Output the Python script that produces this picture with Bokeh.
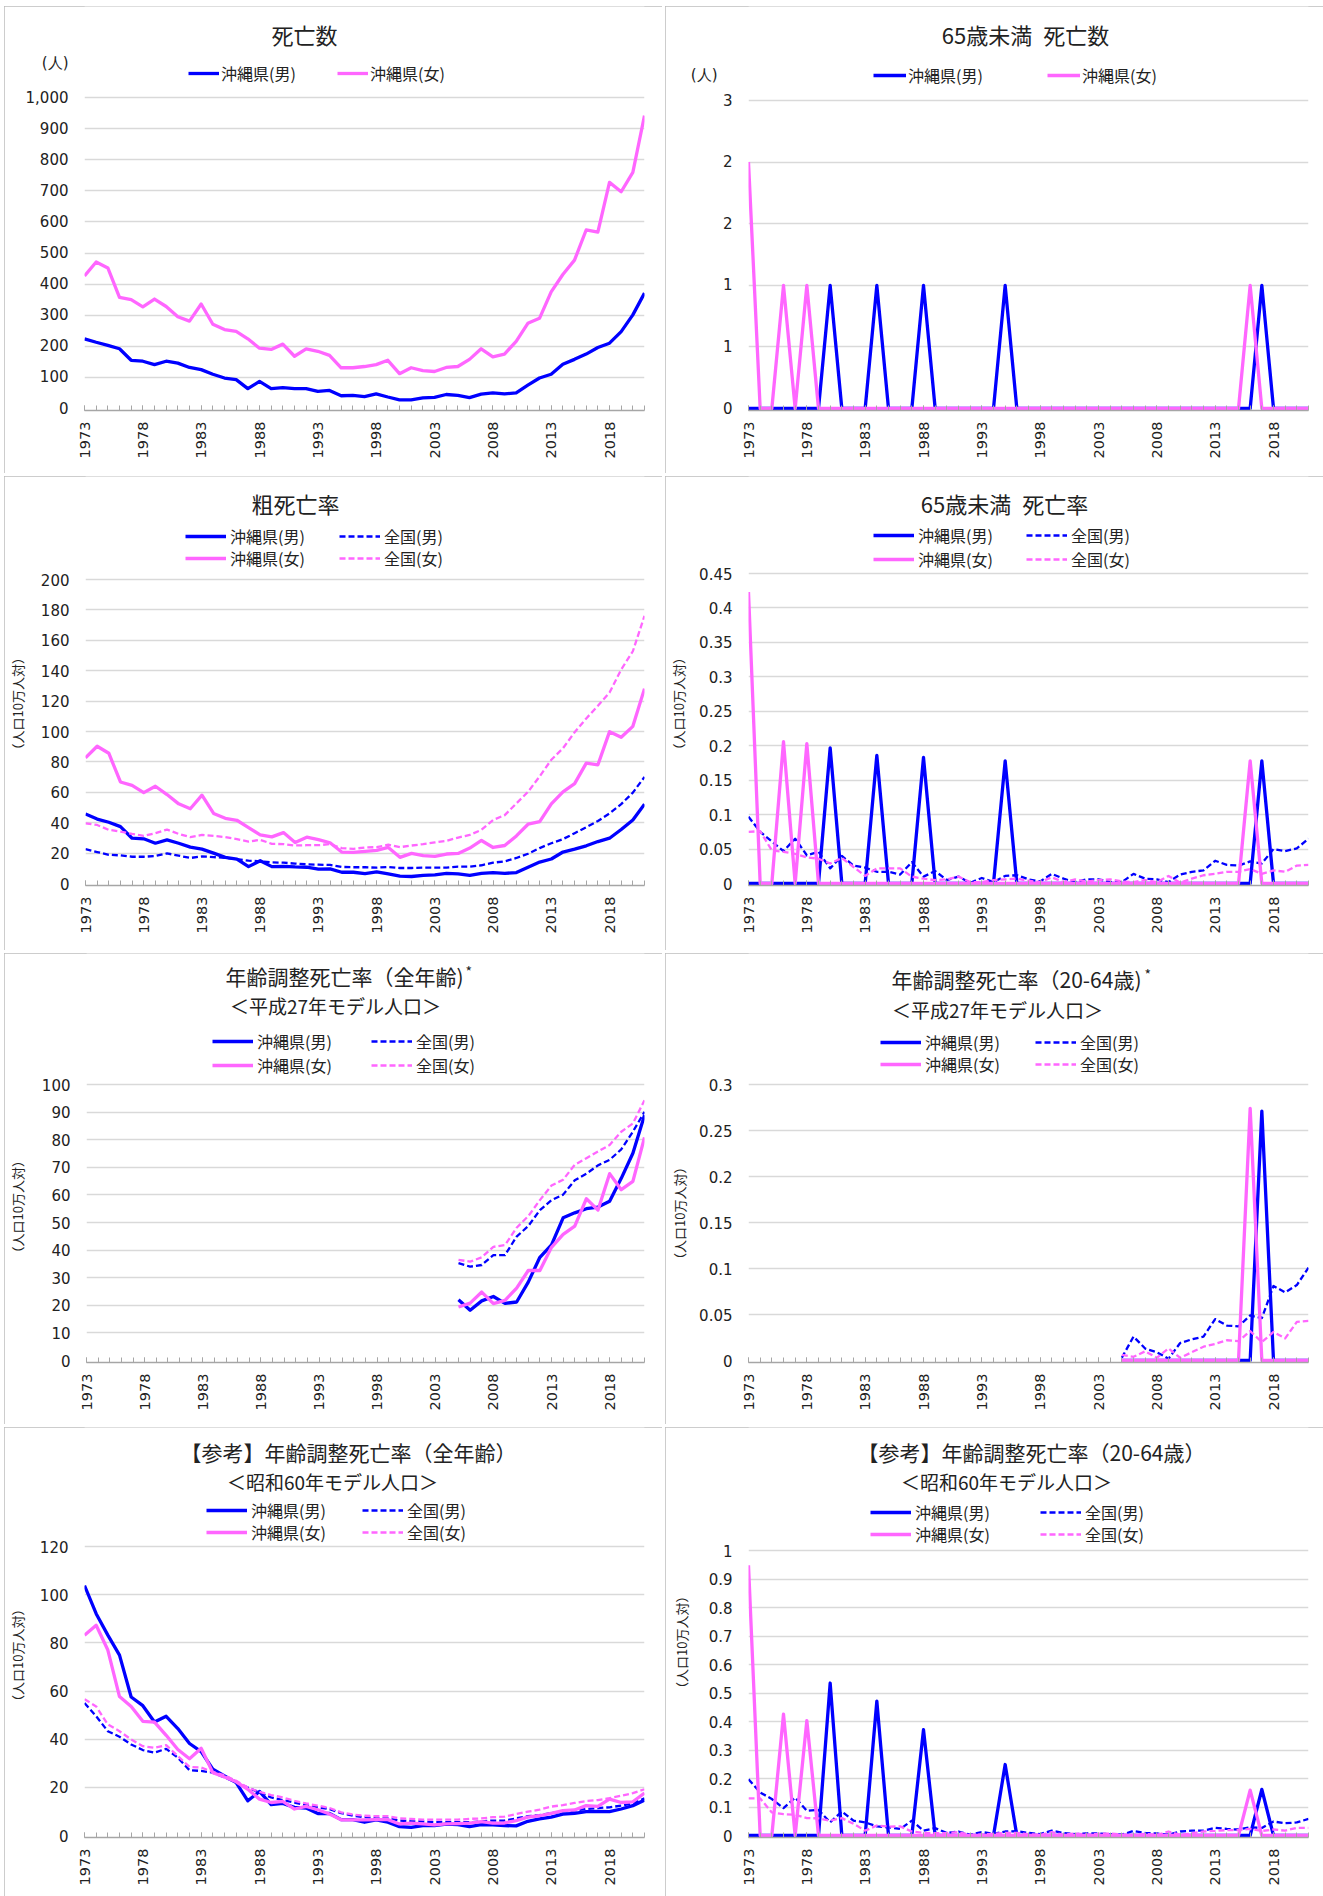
import math
from bokeh.plotting import figure
from bokeh.models import Range1d, FixedTicker, NumeralTickFormatter, Label, Legend, LegendItem
from bokeh.layouts import row, column
from bokeh.embed import file_html
from bokeh.resources import INLINE

# ---------------- data ----------------
years = list(range(1973, 2022))
years_h27 = list(range(2005, 2022))
label_years = [1973, 1978, 1983, 1988, 1993, 1998, 2003, 2008, 2013, 2018]

# 死亡数
deaths_m = [224, 213, 203, 192, 155, 152, 141, 152, 146, 132,
            125, 110, 98, 93, 64, 87, 64, 67, 64, 64,
            55, 58, 41, 42, 38, 47, 37, 28, 28, 34,
            36, 45, 42, 35, 46, 50, 47, 50, 75, 98,
            110, 142, 158, 175, 196, 210, 247, 301, 371]
deaths_f = [426, 471, 452, 357, 350, 327, 352, 328, 295, 281,
            336, 271, 254, 248, 224, 194, 190, 207, 168, 192,
            184, 171, 131, 131, 135, 141, 155, 112, 131, 122,
            119, 132, 135, 158, 192, 166, 175, 216, 274, 290,
            375, 431, 477, 574, 567, 727, 697, 759, 942]

# 65歳未満 死亡数
u65_deaths_m = [0, 0, 0, 0, 0, 0, 0, 1, 0, 0,
                0, 1, 0, 0, 0, 1, 0, 0, 0, 0,
                0, 0, 1, 0, 0, 0, 0, 0, 0, 0,
                0, 0, 0, 0, 0, 0, 0, 0, 0, 0,
                0, 0, 0, 0, 1, 0, 0, 0, 0]
u65_deaths_f = [2, 0, 0, 1, 0, 1, 0, 0, 0, 0,
                0, 0, 0, 0, 0, 0, 0, 0, 0, 0,
                0, 0, 0, 0, 0, 0, 0, 0, 0, 0,
                0, 0, 0, 0, 0, 0, 0, 0, 0, 0,
                0, 0, 0, 1, 0, 0, 0, 0, 0]

# 粗死亡率
crude_m = [45.7, 42.4, 40.3, 37.4, 29.8, 29.4, 26.5, 28.7, 26.5, 23.9,
           22.6, 20.0, 17.2, 16.1, 11.1, 15.0, 11.1, 11.3, 10.9, 10.7,
           9.4, 9.6, 7.4, 7.4, 6.5, 7.6, 6.3, 4.8, 4.6, 5.4,
           5.7, 6.7, 6.3, 5.4, 6.7, 7.2, 6.7, 7.2, 10.7, 14.1,
           16.1, 20.7, 22.6, 24.8, 27.6, 29.8, 35.5, 41.8, 52.2]
crude_nat_m = [22.6, 20.7, 18.9, 18.5, 17.6, 17.6, 18.1, 19.8, 18.3, 16.8,
               17.8, 17.4, 16.8, 16.1, 15.0, 14.6, 13.9, 13.7, 13.1, 12.6,
               12.4, 12.2, 10.9, 10.7, 10.7, 10.4, 10.9, 10.2, 10.2, 10.4,
               10.4, 10.4, 11.1, 11.1, 12.0, 13.7, 14.6, 16.8, 19.6, 23.3,
               26.5, 29.2, 33.1, 37.0, 41.1, 46.1, 52.2, 59.8, 70.1]
crude_f = [82.7, 90.3, 85.7, 66.8, 64.6, 59.8, 64.0, 58.5, 52.4, 49.2,
           58.1, 46.1, 42.9, 41.6, 36.8, 32.0, 30.7, 33.5, 27.0, 30.5,
           28.9, 26.8, 20.7, 20.5, 21.1, 21.8, 23.7, 17.2, 19.8, 18.3,
           17.8, 19.4, 19.8, 23.3, 28.3, 23.7, 25.0, 31.3, 39.0, 40.7,
           52.4, 60.3, 65.7, 79.2, 78.1, 99.9, 96.2, 103.4, 128.2]
crude_nat_f = [39.6, 38.5, 35.3, 34.2, 32.6, 31.3, 33.1, 35.5, 32.6, 30.5,
               32.0, 31.3, 30.5, 29.2, 27.6, 28.7, 26.1, 25.9, 25.0, 25.2,
               25.2, 25.9, 23.3, 22.8, 23.7, 23.9, 25.5, 23.9, 25.0, 25.9,
               27.0, 28.1, 30.2, 32.0, 35.3, 41.8, 45.0, 52.7, 60.3, 70.5,
               81.4, 89.0, 99.5, 108.6, 116.9, 125.6, 140.8, 152.8, 176.1]

# 65歳未満 死亡率
u65_rate_m = [0, 0, 0, 0, 0, 0, 0, 0.197, 0, 0,
              0, 0.186, 0, 0, 0, 0.183, 0, 0, 0, 0,
              0, 0, 0.178, 0, 0, 0, 0, 0, 0, 0,
              0, 0, 0, 0, 0, 0, 0, 0, 0, 0,
              0, 0, 0, 0, 0.178, 0, 0, 0, 0]
u65_rate_nat_m = [0.097, 0.075, 0.061, 0.047, 0.065, 0.041, 0.046, 0.022, 0.040, 0.026,
                  0.023, 0.017, 0.017, 0.013, 0.031, 0.010, 0.018, 0.005, 0.010, 0.001,
                  0.008, 0.002, 0.011, 0.012, 0.006, 0.003, 0.014, 0.007, 0.002, 0.006,
                  0.006, 0.002, 0.002, 0.014, 0.007, 0.006, 0.002, 0.013, 0.017, 0.019,
                  0.033, 0.027, 0.026, 0.032, 0.029, 0.050, 0.047, 0.051, 0.065]
u65_rate_f = [0.423, 0, 0, 0.206, 0, 0.203, 0, 0, 0, 0,
              0, 0, 0, 0, 0, 0, 0, 0, 0, 0,
              0, 0, 0, 0, 0, 0, 0, 0, 0, 0,
              0, 0, 0, 0, 0, 0, 0, 0, 0, 0,
              0, 0, 0, 0.178, 0, 0, 0, 0, 0]
u65_rate_nat_f = [0.075, 0.076, 0.048, 0.046, 0.043, 0.038, 0.036, 0.029, 0.037, 0.024,
                  0.011, 0.022, 0.022, 0.022, 0.010, 0.007, 0.005, 0.006, 0.010, 0.002,
                  0.002, 0.005, 0.006, 0.007, 0.004, 0.002, 0.009, 0.002, 0.006, 0.003,
                  0.005, 0.006, 0.003, 0.002, 0.005, 0.002, 0.011, 0.001, 0.007, 0.012,
                  0.014, 0.017, 0.017, 0.021, 0.014, 0.019, 0.017, 0.026, 0.027]

# 年齢調整死亡率（全年齢） 平成27年モデル人口 (2005-2021)
h27_all_m = [22.0, 18.2, 21.6, 23.2, 20.7, 21.2, 28.4, 37.4, 41.9, 51.7, 53.5, 55.0, 55.6, 57.7, 66.0, 75.1, 88.9]
h27_all_nat_m = [35.3, 34.0, 34.6, 38.2, 38.2, 44.9, 48.7, 54.5, 58.1, 60.1, 65.3, 67.7, 70.7, 72.7, 76.5, 82.9, 90.1]
h27_all_f = [19.4, 20.8, 24.8, 20.6, 21.8, 26.2, 32.6, 32.6, 41.0, 45.7, 48.7, 58.6, 54.5, 67.7, 61.9, 64.9, 80.8]
h27_all_nat_f = [36.5, 35.8, 37.4, 41.2, 41.8, 48.1, 52.3, 58.1, 63.4, 65.5, 70.9, 73.3, 75.7, 78.1, 82.9, 85.9, 94.3]

# 年齢調整死亡率（20-64歳） 平成27年モデル人口 (2005-2021)
h27_2064_m = [0, 0, 0, 0, 0, 0, 0, 0, 0, 0, 0, 0, 0.271, 0, 0, 0, 0]
h27_2064_nat_m = [0.003, 0.026, 0.013, 0.009, 0.002, 0.019, 0.023, 0.026, 0.045, 0.038, 0.037, 0.049, 0.046, 0.081, 0.074, 0.082, 0.101]
h27_2064_f = [0, 0, 0, 0, 0, 0, 0, 0, 0, 0, 0, 0.274, 0, 0, 0, 0, 0]
h27_2064_nat_f = [0.006, 0.004, 0.010, 0.003, 0.013, 0.003, 0.009, 0.015, 0.018, 0.022, 0.021, 0.032, 0.020, 0.031, 0.024, 0.042, 0.043]

# 【参考】年齢調整死亡率（全年齢） 昭和60年モデル人口
s60_all_m = [103.8, 92.1, 83.2, 74.9, 57.5, 53.9, 47.1, 49.5, 44.4, 38.2,
             34.8, 27.5, 24.7, 22.0, 14.4, 18.3, 12.8, 13.3, 11.7, 11.4,
             9.1, 9.2, 6.6, 6.6, 5.5, 6.5, 5.5, 3.7, 3.4, 4.1,
             4.1, 4.7, 4.5, 3.7, 4.5, 4.4, 4.1, 4.0, 5.9, 6.9,
             7.6, 8.9, 9.2, 9.9, 10.0, 9.9, 11.0, 12.4, 14.7]
s60_all_nat_m = [55.0, 49.5, 43.3, 41.0, 37.8, 35.5, 34.4, 36.0, 32.3, 27.1,
                 26.8, 26.1, 24.1, 22.0, 19.9, 17.9, 15.8, 14.7, 13.7, 12.6,
                 11.7, 11.0, 9.3, 8.2, 7.6, 7.1, 7.1, 6.2, 5.9, 5.8,
                 5.5, 5.5, 5.5, 5.5, 5.9, 6.2, 6.2, 7.1, 8.0, 8.5,
                 9.3, 10.0, 10.3, 11.0, 11.4, 11.7, 12.4, 13.3, 15.4]
s60_all_f = [83.2, 87.3, 77.0, 57.7, 53.6, 47.4, 47.1, 41.6, 35.7, 31.9,
             36.2, 26.1, 24.3, 22.3, 19.2, 15.1, 13.7, 14.2, 11.0, 12.1,
             10.7, 8.9, 6.5, 6.5, 6.5, 6.6, 6.6, 4.8, 5.1, 4.8,
             4.4, 4.8, 4.9, 5.1, 5.8, 5.1, 5.2, 6.2, 7.6, 8.2,
             9.2, 10.3, 10.6, 12.4, 12.1, 15.1, 13.7, 14.0, 17.6]
s60_all_nat_f = [56.6, 53.6, 46.1, 43.3, 39.9, 37.1, 36.4, 37.5, 33.0, 28.5,
                 28.2, 26.4, 25.0, 22.7, 19.9, 18.1, 16.8, 15.8, 14.4, 13.3,
                 12.4, 11.4, 9.6, 8.7, 8.2, 8.0, 8.0, 7.1, 6.9, 6.6,
                 6.6, 6.6, 6.6, 6.9, 7.1, 7.6, 7.8, 8.9, 9.9, 10.7,
                 12.0, 12.6, 13.5, 14.3, 14.7, 15.5, 16.5, 17.6, 19.2]

# 【参考】年齢調整死亡率（20-64歳） 昭和60年モデル人口
s60_2064_m = [0, 0, 0, 0, 0, 0, 0, 0.535, 0, 0,
              0, 0.471, 0, 0, 0, 0.371, 0, 0, 0, 0,
              0, 0, 0.249, 0, 0, 0, 0, 0, 0, 0,
              0, 0, 0, 0, 0, 0, 0, 0, 0, 0,
              0, 0, 0, 0, 0.162, 0, 0, 0, 0]
s60_2064_nat_m = [0.197, 0.151, 0.128, 0.096, 0.133, 0.087, 0.090, 0.046, 0.084, 0.052,
                  0.046, 0.032, 0.029, 0.023, 0.052, 0.017, 0.026, 0.009, 0.014, 0.003,
                  0.012, 0.006, 0.014, 0.015, 0.009, 0.005, 0.017, 0.009, 0.005, 0.007,
                  0.007, 0.005, 0.003, 0.016, 0.009, 0.007, 0.003, 0.014, 0.017, 0.017,
                  0.027, 0.023, 0.021, 0.029, 0.026, 0.049, 0.043, 0.046, 0.058]
s60_2064_f = [0.948, 0, 0, 0.426, 0, 0.403, 0, 0, 0, 0,
              0, 0, 0, 0, 0, 0, 0, 0, 0, 0,
              0, 0, 0, 0, 0, 0, 0, 0, 0, 0,
              0, 0, 0, 0, 0, 0, 0, 0, 0, 0,
              0, 0, 0, 0.159, 0, 0, 0, 0, 0]
s60_2064_nat_f = [0.130, 0.130, 0.081, 0.075, 0.073, 0.061, 0.060, 0.052, 0.061, 0.041,
                  0.017, 0.035, 0.031, 0.032, 0.014, 0.009, 0.008, 0.009, 0.012, 0.002,
                  0.003, 0.006, 0.009, 0.009, 0.005, 0.002, 0.012, 0.002, 0.007, 0.003,
                  0.006, 0.007, 0.003, 0.002, 0.006, 0.002, 0.014, 0.002, 0.008, 0.014,
                  0.016, 0.019, 0.019, 0.023, 0.016, 0.021, 0.017, 0.027, 0.027]

# y ticks
ticks_deaths = [0, 100, 200, 300, 400, 500, 600, 700, 800, 900, 1000]
ticks_u65_deaths = [0, 0.5, 1, 1.5, 2, 2.5]
ticks_crude = [0, 20, 40, 60, 80, 100, 120, 140, 160, 180, 200]
ticks_u65_rate = [0, 0.05, 0.1, 0.15, 0.2, 0.25, 0.3, 0.35, 0.4, 0.45]
ticks_h27_all = [0, 10, 20, 30, 40, 50, 60, 70, 80, 90, 100]
ticks_h27_2064 = [0, 0.05, 0.1, 0.15, 0.2, 0.25, 0.3]
ticks_s60_all = [0, 20, 40, 60, 80, 100, 120]
ticks_s60_2064 = [0, 0.1, 0.2, 0.3, 0.4, 0.5, 0.6, 0.7, 0.8, 0.9, 1]

lbl_ok_m, lbl_nat_m, lbl_ok_f, lbl_nat_f = "沖縄県(男)", "全国(男)", "沖縄県(女)", "全国(女)"
ylabel_rate = "（人口10万人対）"

# ---------------- styling ----------------
BLUE = "#0000ff"
PINK = "#ff66ff"
JP = "Noto Sans CJK JP"
NUM = "DejaVu Sans"
TXT = "#222222"
W = 658
SP = "\u3000"


def make_panel(h, left, right, T, B, ticks, fmt, series, titles,
               legend_cols, legend_rows, glyph_w=41, label_standoff=4,
               unit=None, ylabel=None, ylabel_pad=0, ylabel_standoff=11, star=None):
    ymax = ticks[-1]
    data_h = h - T - B                      # pixels from data top to frame bottom
    k = (data_h - 2.0) / ymax               # pixels per data unit
    ymin = -2.0 / k
    yend = ymax + T / k                     # frame extends to the top of the canvas
    p = figure(width=W, height=h, output_backend="svg", toolbar_location=None, tools="",
               title_location=None,
               x_range=Range1d(years[0], years[-1]), y_range=Range1d(ymin, yend),
               min_border_left=left, min_border_right=right,
               min_border_top=0, min_border_bottom=B,
               background_fill_color="white", border_fill_color="white",
               styles={"outline": "1px solid #bcbcbc", "outline-offset": "-1px"})
    p.outline_line_color = None
    p.xgrid.visible = False
    p.ygrid.ticker = FixedTicker(ticks=ticks[1:])
    p.ygrid.grid_line_color = "#d9d9d9"
    p.ygrid.grid_line_width = 1.3

    ya = p.yaxis[0]
    yt = list(ticks)
    if unit:
        utext, udy = unit
        utick = ymax + udy / k
        yt.append(utick)
        ya.major_label_overrides = {utick: utext}
    ya.ticker = FixedTicker(ticks=yt)
    ya.formatter = NumeralTickFormatter(format=fmt)
    ya.axis_line_color = None
    ya.major_tick_in = 0
    ya.major_tick_out = 0
    ya.minor_tick_in = 0
    ya.minor_tick_out = 0
    ya.major_label_standoff = 16
    ya.major_label_text_font = NUM
    ya.major_label_text_font_size = "15px"
    ya.major_label_text_color = TXT
    if ylabel:
        ya.axis_label = ylabel + SP * ylabel_pad
        ya.axis_label_text_font = JP
        ya.axis_label_text_font_size = "13px"
        ya.axis_label_text_font_style = "normal"
        ya.axis_label_text_color = TXT
        ya.axis_label_standoff = ylabel_standoff

    xa = p.xaxis[0]
    xa.axis_label = None
    xa.ticker = FixedTicker(ticks=label_years, minor_ticks=years)
    xa.axis_line_color = "#a6a6a6"
    xa.axis_line_width = 1.3
    xa.major_tick_line_color = "#a6a6a6"
    xa.minor_tick_line_color = "#a6a6a6"
    xa.major_tick_in = 5
    xa.major_tick_out = 0
    xa.minor_tick_in = 5
    xa.minor_tick_out = 0
    xa.major_label_orientation = math.pi / 2
    xa.major_label_standoff = 11
    xa.major_label_text_font = NUM
    xa.major_label_text_font_size = "14.5px"
    xa.major_label_text_color = TXT

    renderers = []
    for (label, xs, ys, color, dashed) in series:
        r = p.line(xs, ys, line_color=color,
                   line_width=2.3 if dashed else 3.3,
                   line_dash="6 3" if dashed else "solid",
                   line_join="round")
        renderers.append((label, r))

    # legend: one small legend per item, placed relative to the frame
    idx = 0
    for dy in legend_rows:
        for dx in legend_cols:
            if idx >= len(renderers):
                break
            label, r = renderers[idx]
            lg = Legend(items=[LegendItem(label=label, renderers=[r])],
                        location=(dx, data_h + dy - 10), orientation="horizontal",
                        padding=0, margin=0, spacing=0,
                        glyph_width=glyph_w, glyph_height=20, label_height=20,
                        label_standoff=label_standoff,
                        label_text_font=JP, label_text_font_size="16px",
                        label_text_color=TXT,
                        border_line_color=None, background_fill_alpha=0)
            p.add_layout(lg, "center")
            idx += 1

    for (text, dx, dy, size) in titles:
        p.add_layout(Label(x=years[0], y=ymax, x_offset=dx, y_offset=dy, text=text,
                           text_align="center", text_baseline="middle",
                           text_font=JP, text_font_size=size, text_color=TXT))
    if star:
        sdx, sdy = star
        p.add_layout(Label(x=years[0], y=ymax, x_offset=sdx, y_offset=sdy, text="*",
                           text_align="left", text_baseline="middle",
                           text_font=JP, text_font_size="14px", text_color=TXT))
    return p


def four(ok_m, nat_m, ok_f, nat_f, xs):
    return [(lbl_ok_m, xs, ok_m, BLUE, False), (lbl_nat_m, xs, nat_m, BLUE, True),
            (lbl_ok_f, xs, ok_f, PINK, False), (lbl_nat_f, xs, nat_f, PINK, True)]


LEFT = (80, 18)
RIGHT = (83, 15)
H1, H2, H3, H4 = 467, 474, 471, 469

p1 = make_panel(H1, *LEFT, 91, 63, ticks_deaths, "0,0",
                [(lbl_ok_m, years, deaths_m, BLUE, False), (lbl_ok_f, years, deaths_f, PINK, False)],
                [("死亡数", 220, 64, "22px")],
                legend_cols=[104, 253], legend_rows=[22], glyph_w=31, label_standoff=2,
                unit=("(人)", 35))
p2 = make_panel(H1, *RIGHT, 94, 63, ticks_u65_deaths, "0",
                [(lbl_ok_m, years, u65_deaths_m, BLUE, False), (lbl_ok_f, years, u65_deaths_f, PINK, False)],
                [("65歳未満\u2002死亡数", 277, 67, "22px")],
                legend_cols=[125, 299], legend_rows=[23], glyph_w=33, label_standoff=2,
                unit=("(人)" + SP, 26))
p3 = make_panel(H2, *LEFT, 103, 65, ticks_crude, "0",
                four(crude_m, crude_nat_m, crude_f, crude_nat_f, years),
                [("粗死亡率", 210, 77, "22px")],
                legend_cols=[100, 254], legend_rows=[41, 19],
                ylabel=ylabel_rate, ylabel_pad=4, ylabel_standoff=11)
p4 = make_panel(H2, *RIGHT, 97, 65, ticks_u65_rate, "0.[00]",
                four(u65_rate_m, u65_rate_nat_m, u65_rate_f, u65_rate_nat_f, years),
                [("65歳未満\u2002死亡率", 256, 71, "22px")],
                legend_cols=[125, 278], legend_rows=[36, 12],
                ylabel=ylabel_rate, ylabel_pad=4, ylabel_standoff=8)
p5 = make_panel(H3, *LEFT, 131, 62, ticks_h27_all, "0",
                four(h27_all_m, h27_all_nat_m, h27_all_f, h27_all_nat_f, years_h27),
                [("年齢調整死亡率（全年齢)", 258, 109, "21px"), ("＜平成27年モデル人口＞", 249, 79, "19px")],
                legend_cols=[126, 285], legend_rows=[41, 17],
                ylabel=ylabel_rate, ylabel_pad=8, ylabel_standoff=12, star=(379, 114))
p6 = make_panel(H3, *RIGHT, 131, 62, ticks_h27_2064, "0.[00]",
                four(h27_2064_m, h27_2064_nat_m, h27_2064_f, h27_2064_nat_f, years_h27),
                [("年齢調整死亡率（20-64歳)", 268, 106, "21px"), ("＜平成27年モデル人口＞", 249, 75, "19px")],
                legend_cols=[132, 287], legend_rows=[40, 18],
                ylabel=ylabel_rate, ylabel_pad=9, ylabel_standoff=7, star=(396, 111))
p7 = make_panel(H4, *LEFT, 119, 59, ticks_s60_all, "0",
                four(s60_all_m, s60_all_nat_m, s60_all_f, s60_all_nat_f, years),
                [("【参考】年齢調整死亡率（全年齢）", 264, 95, "21px"), ("＜昭和60年モデル人口＞", 248, 65, "19px")],
                legend_cols=[122, 278], legend_rows=[34, 12],
                ylabel=ylabel_rate, ylabel_pad=4, ylabel_standoff=10)
p8 = make_panel(H4, *RIGHT, 123, 59, ticks_s60_2064, "0.[0]",
                four(s60_2064_m, s60_2064_nat_m, s60_2064_f, s60_2064_nat_f, years),
                [("【参考】年齢調整死亡率（20-64歳）", 283, 99, "21px"), ("＜昭和60年モデル人口＞", 258, 69, "19px")],
                legend_cols=[122, 292], legend_rows=[36, 14],
                ylabel=ylabel_rate, ylabel_pad=2, ylabel_standoff=15)

layout = column(row(p1, p2, spacing=3), row(p3, p4, spacing=3),
                row(p5, p6, spacing=3), row(p7, p8, spacing=3),
                spacing=3, margin=(6, 0, 0, 4))

open("out.html", "w").write(file_html(layout, INLINE))
